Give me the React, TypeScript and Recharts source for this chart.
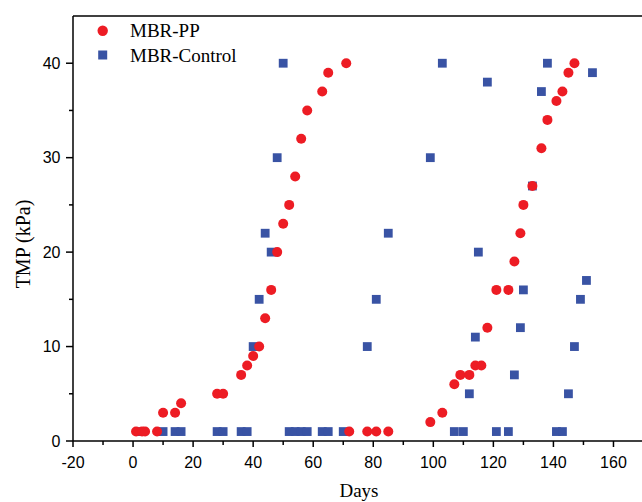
import React from 'react';
import { ScatterChart, Scatter, XAxis, YAxis, ReferenceLine, Legend, Label } from 'recharts';

// MBR-PP (red circles)
const ppDays = [1, 3, 4, 8, 10, 14, 16, 28, 30, 36, 38, 40, 42, 44, 46, 48, 50, 52, 54, 56, 58, 63, 65, 71,
  72, 78, 81, 85, 99, 103, 107, 109, 112, 114, 116, 118, 121, 125, 127, 129, 130, 133, 136, 138, 141, 143, 145, 147];
const ppTmp = [1, 1, 1, 1, 3, 3, 4, 5, 5, 7, 8, 9, 10, 13, 16, 20, 23, 25, 28, 32, 35, 37, 39, 40,
  1, 1, 1, 1, 2, 3, 6, 7, 7, 8, 8, 12, 16, 16, 19, 22, 25, 27, 31, 34, 36, 37, 39, 40];

// MBR-Control (blue squares)
const ctrlDays = [2, 10, 14, 16, 28, 30, 36, 38, 40, 42, 44, 46, 48, 50, 52, 54, 56, 58, 63, 65, 70, 78, 81, 85,
  99, 103, 107, 110, 112, 114, 115, 118, 121, 125, 127, 129, 130, 133, 136, 138, 141, 143, 145, 147, 149, 151, 153];
const ctrlTmp = [1, 1, 1, 1, 1, 1, 1, 1, 10, 15, 22, 20, 30, 40, 1, 1, 1, 1, 1, 1, 1, 10, 15, 22,
  30, 40, 1, 1, 5, 11, 20, 38, 1, 1, 7, 12, 16, 27, 37, 40, 1, 1, 5, 10, 15, 17, 39];

const xTicks = [-20, -10, 0, 10, 20, 30, 40, 50, 60, 70, 80, 90, 100, 110, 120, 130, 140, 150, 160];
const yTicks = [0, 5, 10, 15, 20, 25, 30, 35, 40];

const RED = '#ED1C24';
const BLUE = '#3953A4';
const SANS = '"Liberation Sans", Arial, sans-serif';
const SERIF = '"Liberation Serif", "Times New Roman", serif';

const ppData = ppDays.map((d, i) => ({ x: d, y: ppTmp[i] }));
const ctrlData = ctrlDays.map((d, i) => ({ x: d, y: ctrlTmp[i] }));

const XTick = (props: any) => {
  const { x, y, payload } = props;
  const major = payload.value % 20 === 0;
  return (
    <g>
      <line x1={x} x2={x} y1={y} y2={y + (major ? 6 : 4)} stroke="#000" strokeWidth={1.5} />
      {major && (
        <text x={x} y={y + 26.5} textAnchor="middle" fontFamily={SANS} fontSize={16} fill="#000">
          {payload.value}
        </text>
      )}
    </g>
  );
};

const YTick = (props: any) => {
  const { x, y, payload } = props;
  const major = payload.value % 10 === 0;
  return (
    <g>
      <line x1={x - (major ? 7 : 4)} x2={x} y1={y} y2={y} stroke="#000" strokeWidth={1.5} />
      {major && (
        <text x={x - 12.5} y={y} dy="0.36em" textAnchor="end" fontFamily={SANS} fontSize={16} fill="#000">
          {payload.value}
        </text>
      )}
    </g>
  );
};

const renderLegend = () => (
  <svg width={300} height={80} style={{ display: 'block' }}>
    <circle cx={102.7} cy={30.7} r={5.2} fill={RED} />
    <text x={130} y={37.3} fontFamily={SERIF} fontSize={19} fill="#000">MBR-PP</text>
    <rect x={98.2} y={50.5} width={9} height={9} fill={BLUE} />
    <text x={130} y={61.7} fontFamily={SERIF} fontSize={19} fill="#000">MBR-Control</text>
  </svg>
);

const App: React.FC = () => {
  return (
    <div style={{ position: 'absolute', left: 0, top: 0, background: '#fff' }}>
      <ScatterChart width={642} height={502} margin={{ top: 16, right: 0, bottom: 0, left: 0 }}>
        <XAxis
          type="number"
          dataKey="x"
          domain={[-20, 169.5]}
          ticks={xTicks}
          interval={0}
          tick={<XTick />}
          tickLine={false}
          tickSize={0}
          tickMargin={0}
          height={61}
          axisLine={{ stroke: '#000', strokeWidth: 1.5 }}
          allowDataOverflow
        >
          <Label
            content={() => (
              <text x={359} y={497} textAnchor="middle" fontFamily={SERIF} fontSize={19} fill="#000">
                Days
              </text>
            )}
          />
        </XAxis>
        <YAxis
          type="number"
          dataKey="y"
          domain={[0, 45]}
          ticks={yTicks}
          interval={0}
          tick={<YTick />}
          tickLine={false}
          tickSize={0}
          tickMargin={0}
          width={73}
          axisLine={{ stroke: '#000', strokeWidth: 1.5 }}
          allowDataOverflow
        >
          <Label
            content={() => (
              <text
                x={30}
                y={244}
                transform="rotate(-90 30 244)"
                textAnchor="middle"
                fontFamily={SERIF}
                fontSize={20}
                fill="#000"
              >
                TMP (kPa)
              </text>
            )}
          />
        </YAxis>
        <ReferenceLine y={45} stroke="#000" strokeWidth={1.5} />
        <Legend
          layout="horizontal"
          verticalAlign="middle"
          align="center"
          content={renderLegend}
          wrapperStyle={{ position: 'absolute', top: 0, left: 0, width: 300, height: 80 }}
        />
        <Scatter
          name="MBR-Control"
          data={ctrlData}
          isAnimationActive={false}
          shape={(p: any) => <rect x={p.cx - 4.4} y={p.cy - 4.4} width={8.8} height={8.8} fill={BLUE} />}
        />
        <Scatter
          name="MBR-PP"
          data={ppData}
          isAnimationActive={false}
          shape={(p: any) => <circle cx={p.cx} cy={p.cy} r={5} fill={RED} />}
        />
      </ScatterChart>
    </div>
  );
};

export default App;
